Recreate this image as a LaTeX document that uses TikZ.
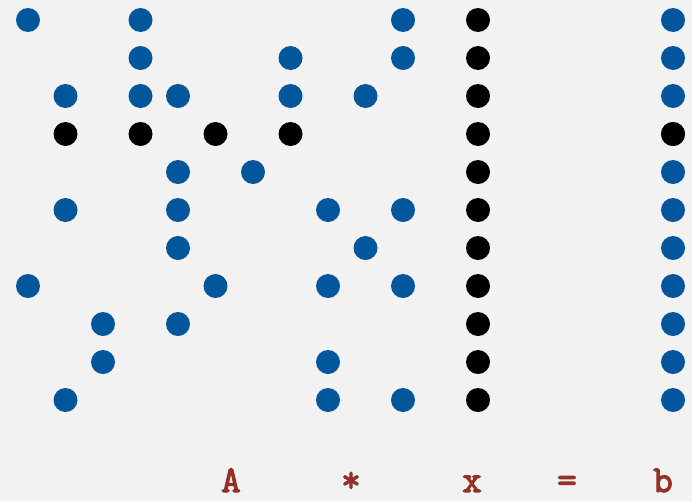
\documentclass[tikz,border=0pt]{standalone}
\usepackage{fontspec}
\newfontfamily\lblfont[FakeBold=3]{Latin Modern Mono}
\usepackage{tikz}
\usepackage{xcolor}
\definecolor{panelgray}{HTML}{F2F2F2}
\definecolor{nzblue}{HTML}{02569B}
\definecolor{labelred}{HTML}{943126}

\begin{document}
\begin{tikzpicture}[x=1pt,y=-1pt,
  nz/.style={circle,fill=nzblue,inner sep=0pt,minimum size=24pt},
  known/.style={circle,fill=black,inner sep=0pt,minimum size=24pt},
  lbl/.style={labelred,anchor=base,inner sep=0pt,font=\lblfont\fontsize{38}{38}\selectfont}]
  \fill[panelgray] (0,0) rectangle (692,501);
  \useasboundingbox (0,0) rectangle (692,501);
  % sparse matrix A
  \foreach \r/\cs in {1/{1,4,11},2/{4,8,11},3/{2,4,5,8,10},5/{5,7},6/{2,5,9,11},
                      7/{5,10},8/{1,6,9,11},9/{3,5},10/{3,9},11/{2,9,11}}
    \foreach \c in \cs
      \node[nz] (A-\r-\c) at ({28+37.5*(\c-1)},{20+38*(\r-1)}) {};
  \foreach \c in {2,4,6,8}
    \node[known] (A-4-\c) at ({28+37.5*(\c-1)},{20+38*3}) {};
  % vectors x and b
  \foreach \r in {1,...,11} {
    \node[known] (x-\r) at (478,{20+38*(\r-1)}) {};
    \node[nz] (b-\r) at (673,{20+38*(\r-1)}) {};
  }
  \node[known] at (b-4) {};
  % labels
  \node[lbl] (lA) at (231,492) {A};
  \node[lbl] (lmul) at (351,492) {*};
  \node[lbl] (lx) at (472,492) {x};
  \node[lbl] (leq) at (567,492) {=};
  \node[lbl] (lb) at (663,492) {b};
\end{tikzpicture}
\end{document}
